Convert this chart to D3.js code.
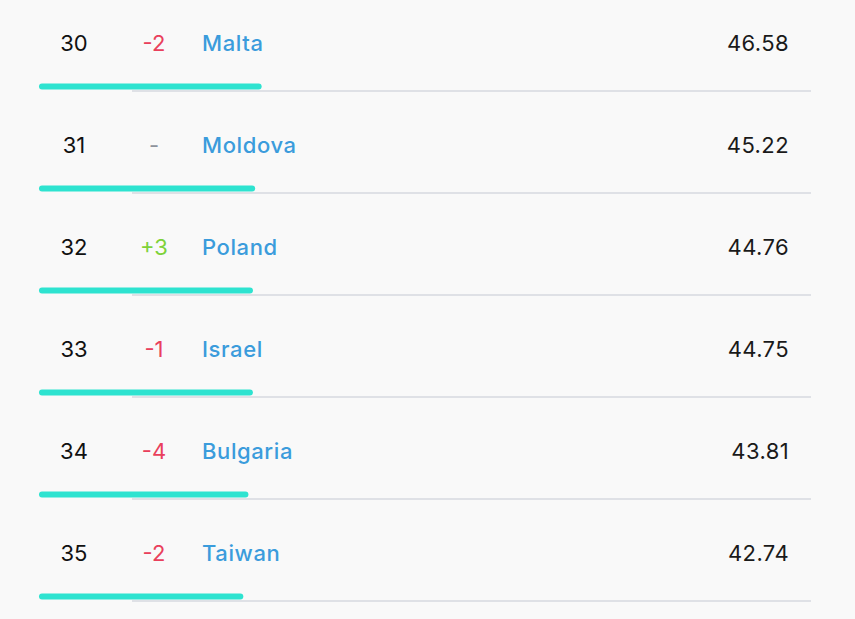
<!DOCTYPE html>
<html>
<head>
<meta charset="utf-8">
<script src="https://cdn.jsdelivr.net/npm/d3@7"></script>
<style>
  html, body { margin: 0; padding: 0; background: #f9f9f9; }
  svg { display: block; font-family: Inter, "Noto Sans", sans-serif; }
</style>
</head>
<body>
<div id="chart"></div>
<script>
'use strict';

var ranks = [30, 31, 32, 33, 34, 35];
var changes = [-2, 0, 3, -1, -4, -2];
var countries = ['Malta', 'Moldova', 'Poland', 'Israel', 'Bulgaria', 'Taiwan'];
var scores = [46.58, 45.22, 44.76, 44.75, 43.81, 42.74];

var width = 855;
var height = 619;
var rowHeight = 102;
var fontSize = 22;

// score bar: 0..100 maps onto the bar track
var x = d3.scaleLinear().domain([0, 100]).range([39, 517]);
var y = d3.scaleBand().domain(d3.range(ranks.length))
  .range([0, rowHeight * ranks.length]);

var rows = ranks.map(function (r, i) {
  return { rank: r, change: changes[i], name: countries[i], score: scores[i] };
});

function changeText(c) {
  if (c > 0) return '+' + c;
  if (c < 0) return '-' + Math.abs(c);
  return '-';
}

function changeColor(c) {
  if (c > 0) return '#7ed23a';
  if (c < 0) return '#e9405c';
  return '#8e939c';
}

var svg = d3.select('#chart')
  .append('svg')
  .attr('width', width)
  .attr('height', height);

var row = svg.selectAll('g.row')
  .data(rows)
  .enter().append('g')
  .attr('class', 'row')
  .attr('transform', function (d, i) { return 'translate(0,' + y(i) + ')'; });

// divider under each row
row.append('line')
  .attr('x1', 132)
  .attr('x2', 811)
  .attr('y1', 91)
  .attr('y2', 91)
  .attr('stroke', '#dfe1e6')
  .attr('stroke-width', 2);

// score bar
row.append('line')
  .attr('x1', x(0) + 3)
  .attr('x2', function (d) { return x(d.score) - 3; })
  .attr('y1', 86.5)
  .attr('y2', 86.5)
  .attr('stroke', '#2ee3d0')
  .attr('stroke-width', 6)
  .attr('stroke-linecap', 'round');

row.append('text')
  .attr('x', 74)
  .attr('y', 51)
  .attr('text-anchor', 'middle')
  .attr('font-size', fontSize)
  .attr('fill', '#111')
  .text(function (d) { return d.rank; });

row.append('text')
  .attr('x', 154)
  .attr('y', 51)
  .attr('text-anchor', 'middle')
  .attr('font-size', fontSize)
  .attr('fill', function (d) { return changeColor(d.change); })
  .text(function (d) { return changeText(d.change); });

row.append('text')
  .attr('x', 202)
  .attr('y', 51)
  .attr('font-size', fontSize)
  .attr('font-weight', 500)
  .attr('letter-spacing', 0.6)
  .attr('fill', '#3b9cdc')
  .text(function (d) { return d.name; });

row.append('text')
  .attr('x', 789)
  .attr('y', 51)
  .attr('text-anchor', 'end')
  .attr('font-size', fontSize)
  .attr('letter-spacing', 0.4)
  .attr('fill', '#1a1a1a')
  .text(function (d) { return d.score.toFixed(2); });
</script>
</body>
</html>
